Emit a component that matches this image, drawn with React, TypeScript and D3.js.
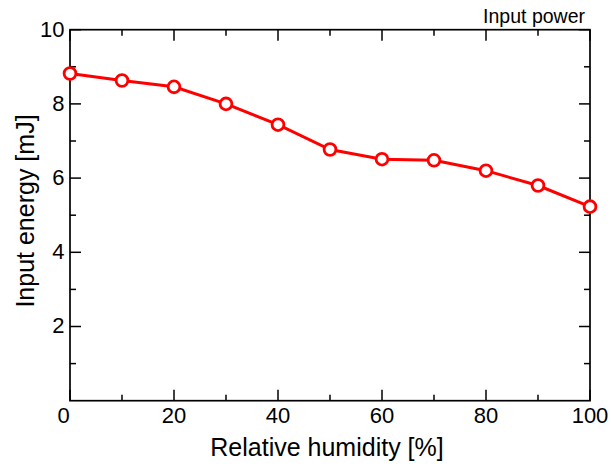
import React from "react";
import * as d3 from "d3";

const humidity = [0, 10, 20, 30, 40, 50, 60, 70, 80, 90, 100];
const energy = [8.82, 8.63, 8.46, 8.0, 7.44, 6.77, 6.51, 6.48, 6.2, 5.8, 5.23];
const xMajorTicks = [0, 20, 40, 60, 80, 100];
const xMinorTicks = [10, 30, 50, 70, 90];
const yMajorTicks = [2, 4, 6, 8, 10];
const yMinorTicks = [1, 3, 5, 7, 9];

const W = 611;
const H = 468;
const M = { left: 70, right: 21, top: 29.7, bottom: 67.3 };
const FONT = "'Liberation Sans', Arial, sans-serif";

export default function App() {
  const x = d3.scaleLinear().domain([0, 100]).range([M.left, W - M.right]);
  const y = d3.scaleLinear().domain([0, 10]).range([H - M.bottom, M.top]);
  const x0 = x(0), x1 = x(100), y0 = y(0), y1 = y(10);
  const line = d3
    .line<number>()
    .x((_, i) => x(humidity[i]))
    .y((d) => y(d))(energy) as string;
  const majorLen = 11;
  const minorLen = 6;

  return (
    <svg
      width={W}
      height={H}
      style={{ position: "absolute", left: 0, top: 0, background: "#fff" }}
      fontFamily={FONT}
    >
      <rect x={0} y={0} width={W} height={H} fill="#fff" />
      {/* ticks */}
      <g stroke="#000" strokeWidth={1.5}>
        {xMajorTicks.map((t) => (
          <g key={"xm" + t}>
            <line x1={x(t)} x2={x(t)} y1={y0} y2={y0 - majorLen} />
            <line x1={x(t)} x2={x(t)} y1={y1} y2={y1 + majorLen} />
          </g>
        ))}
        {xMinorTicks.map((t) => (
          <g key={"xn" + t}>
            <line x1={x(t)} x2={x(t)} y1={y0} y2={y0 - minorLen} />
            <line x1={x(t)} x2={x(t)} y1={y1} y2={y1 + minorLen} />
          </g>
        ))}
        {yMajorTicks.map((t) => (
          <g key={"ym" + t}>
            <line x1={x0} x2={x0 + majorLen} y1={y(t)} y2={y(t)} />
            <line x1={x1} x2={x1 - majorLen} y1={y(t)} y2={y(t)} />
          </g>
        ))}
        {yMinorTicks.map((t) => (
          <g key={"yn" + t}>
            <line x1={x0} x2={x0 + minorLen} y1={y(t)} y2={y(t)} />
            <line x1={x1} x2={x1 - minorLen} y1={y(t)} y2={y(t)} />
          </g>
        ))}
      </g>
      <rect
        x={x0}
        y={y1}
        width={x1 - x0}
        height={y0 - y1}
        fill="none"
        stroke="#000"
        strokeWidth={1.7}
      />
      {/* tick labels */}
      <g fontSize={22} fill="#000">
        {xMajorTicks.map((t) => (
          <text
            key={"xl" + t}
            x={x(t) - (t === 0 ? 6.5 : 0)}
            y={422.5}
            textAnchor="middle"
          >
            {t}
          </text>
        ))}
        {yMajorTicks.map((t) => (
          <text
            key={"yl" + t}
            x={64.5}
            y={y(t) - 1}
            dy="0.36em"
            textAnchor="end"
          >
            {t}
          </text>
        ))}
      </g>
      {/* data */}
      <path d={line} fill="none" stroke="#ff0000" strokeWidth={3} />
      {energy.map((v, i) => (
        <circle
          key={"p" + i}
          cx={x(humidity[i])}
          cy={y(v)}
          r={5.9}
          fill="#fff"
          stroke="#ff0000"
          strokeWidth={2.8}
        />
      ))}
      {/* titles */}
      <text x={327} y={456} fontSize={25} textAnchor="middle" fill="#000">
        Relative humidity [%]
      </text>
      <text
        transform={`translate(33.5, 211) rotate(-90)`}
        fontSize={25}
        textAnchor="middle"
        fill="#000"
      >
        Input energy [mJ]
      </text>
      <text x={585} y={22.5} fontSize={19.5} textAnchor="end" fill="#000">
        Input power
      </text>
    </svg>
  );
}
